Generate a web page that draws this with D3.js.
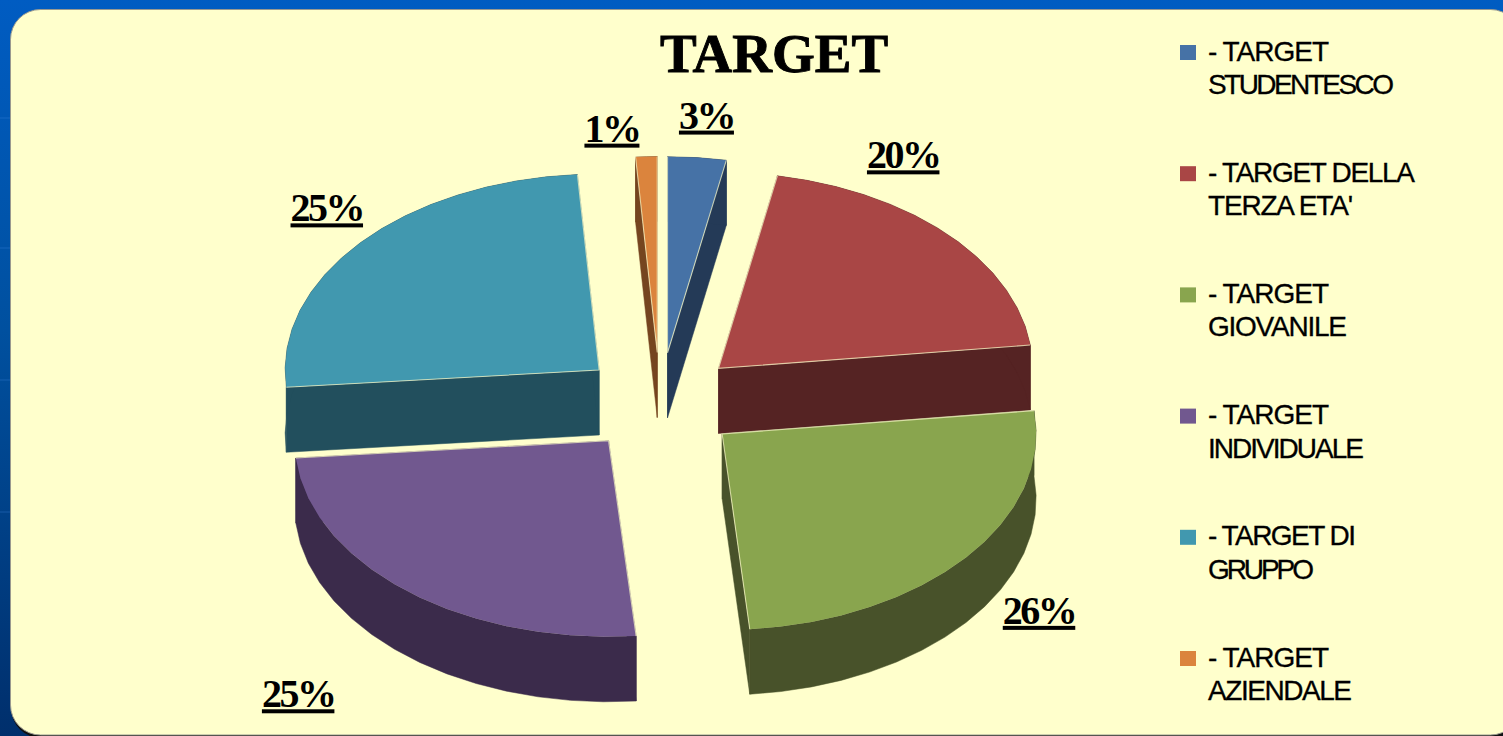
<!DOCTYPE html>
<html><head><meta charset="utf-8">
<script src="https://cdn.jsdelivr.net/npm/d3@7"></script>
<style>html,body{margin:0;padding:0;background:#003a80;overflow:hidden}svg{display:block}</style>
</head><body>
<svg id="c" width="1503" height="736"></svg>
<script>
const chartTitle = "TARGET";
const categories = ["- TARGET STUDENTESCO","- TARGET DELLA TERZA ETA'","- TARGET GIOVANILE","- TARGET INDIVIDUALE","- TARGET DI GRUPPO","- TARGET AZIENDALE"];
const legendLines = [["- TARGET","STUDENTESCO"],["- TARGET DELLA","TERZA ETA'"],["- TARGET","GIOVANILE"],["- TARGET","INDIVIDUALE"],["- TARGET DI","GRUPPO"],["- TARGET","AZIENDALE"]];
const values = [3.0, 20.1, 25.5, 25.0, 25.3, 1.1];
const topColors = ["#4672A6","#A94645","#89A54E","#71588F","#4198AF","#DB843D"];
const wallColors = ["#243A57","#552323","#48522A","#3B2B4B","#224F5D","#75451F"];

// layout
const W = 1503, H = 736;
const cx = 660, cy = 402.5, rx = 314, ry = 196, depth = 65, explode = 0.255;
const facetDeg = 6;
const labelNudge = [[-18,-30],[-80,-67],[38,67],[-146,117],[-71,-22],[-62,-16]];
const legendWidths = [[121,186],[207,145],[121,139],[121,156],[148,106],[121,144]];

const svg = d3.select("#c");
const defs = svg.append("defs");
const bg = defs.append("linearGradient").attr("id","bg").attr("x1",0).attr("y1",0).attr("x2",0).attr("y2",1);
bg.append("stop").attr("offset",0).attr("stop-color","#005cc2");
bg.append("stop").attr("offset",0.45).attr("stop-color","#00509f");
bg.append("stop").attr("offset",1).attr("stop-color","#002f6c");

svg.append("rect").attr("width",W).attr("height",H).attr("fill","url(#bg)");
svg.selectAll("line.g").data([118,248,380,512]).join("line")
  .attr("x1",0).attr("x2",W).attr("y1",d=>d).attr("y2",d=>d)
  .attr("stroke","#3f8be0").attr("stroke-opacity",0.35);

svg.append("rect").attr("x",11).attr("y",12).attr("width",1510).attr("height",726).attr("rx",30).attr("fill","#111");
svg.append("rect").attr("x",10.5).attr("y",9.5).attr("width",1510).attr("height",725.5).attr("rx",30)
  .attr("fill","#FFFFCC").attr("stroke","#9a9a90").attr("stroke-width",1);

// pie geometry
const pie = d3.pie().sort(null).value(d=>d);
const arcs = pie(values);
const x = d3.scaleLinear().domain([-1,1]).range([cx-rx,cx+rx]);
const y = d3.scaleLinear().domain([-1,1]).range([cy+ry,cy-ry]);
const line = d3.line().x(p=>p[0]).y(p=>p[1]).curve(d3.curveLinearClosed);
const openLine = d3.line().x(p=>p[0]).y(p=>p[1]);

const slices = arcs.map((a,i)=>{
  const mid = (a.startAngle+a.endAngle)/2;
  const ox = explode*Math.sin(mid), oy = explode*Math.cos(mid);
  const pt = (ang,r=1,dz=0)=>[x(ox+r*Math.sin(ang)), y(oy+r*Math.cos(ang))+dz];
  const n = Math.max(2,Math.ceil((a.endAngle-a.startAngle)/(facetDeg*Math.PI/180)));
  const angs = d3.range(n+1).map(k=>a.startAngle+(a.endAngle-a.startAngle)*k/n);
  return {i,mid,a,pt,angs};
}).sort((p,q)=>Math.cos(q.mid)-Math.cos(p.mid));

const g = svg.append("g");
slices.forEach(s=>{
  const {pt,angs,a,i} = s;
  const apex = pt(0,0), apexB = pt(0,0,depth);
  const wall = g.append("g").attr("fill",wallColors[i]).attr("stroke",wallColors[i]).attr("stroke-width",0.5).attr("stroke-linejoin","round");
  wall.append("path").attr("d",line([apex,pt(a.startAngle),pt(a.startAngle,1,depth),apexB]));
  wall.append("path").attr("d",line([apex,pt(a.endAngle),pt(a.endAngle,1,depth),apexB]));
  wall.append("path").attr("d",line([...angs.map(t=>pt(t)),...angs.slice().reverse().map(t=>pt(t,1,depth))]));
  g.append("path").attr("d",line([apex,...angs.map(t=>pt(t))])).attr("fill",topColors[i]);
  g.append("path").attr("d",openLine([pt(a.startAngle),apex,pt(a.endAngle)]))
    .attr("fill","none").attr("stroke","#ffffcc").attr("stroke-opacity",0.7).attr("stroke-width",1.1);
});

// percentage labels
const fmt = d3.format(".0f");
const serif = "'Liberation Serif','Times New Roman',serif";
svg.append("g").selectAll("text").data(arcs).join("text")
  .attr("x",(a,i)=>{const m=(a.startAngle+a.endAngle)/2;return x((1+0.25)*Math.sin(m))+labelNudge[i][0];})
  .attr("y",(a,i)=>{const m=(a.startAngle+a.endAngle)/2;return y((1+0.25)*Math.cos(m))+labelNudge[i][1];})
  .attr("font-family",serif).attr("font-weight","bold").attr("font-size",40)
  .attr("letter-spacing",-2.5).attr("text-decoration","underline").attr("fill","#000")
  .text(a=>fmt(a.value)+"%");

// title
svg.append("text").attr("x",660).attr("y",72).attr("font-family",serif).attr("font-weight","bold")
  .attr("font-size",55).attr("letter-spacing",0).attr("stroke","#000").attr("stroke-width",0.9).text(chartTitle);

// legend
const legendY = d3.scalePoint().domain(categories).range([45,651]);
const lg = svg.append("g").selectAll("g").data(categories).join("g")
  .attr("transform",d=>`translate(0,${legendY(d)})`);
lg.append("rect").attr("x",1180).attr("y",0).attr("width",16).attr("height",15).attr("fill",(d,i)=>topColors[i]);
lg.each(function(d,i){
  d3.select(this).selectAll("text").data(legendLines[i]).join("text")
    .attr("x",1208).attr("y",(l,k)=>15.5+k*33.5)
    .attr("font-family","'Liberation Sans',Arial,sans-serif").attr("font-size",28)
    .attr("textLength",(l,k)=>legendWidths[i][k]).attr("lengthAdjust","spacing")
    .attr("stroke","#000").attr("stroke-width",0.3).attr("fill","#000").text(l=>l);
});
</script>
</body></html>
